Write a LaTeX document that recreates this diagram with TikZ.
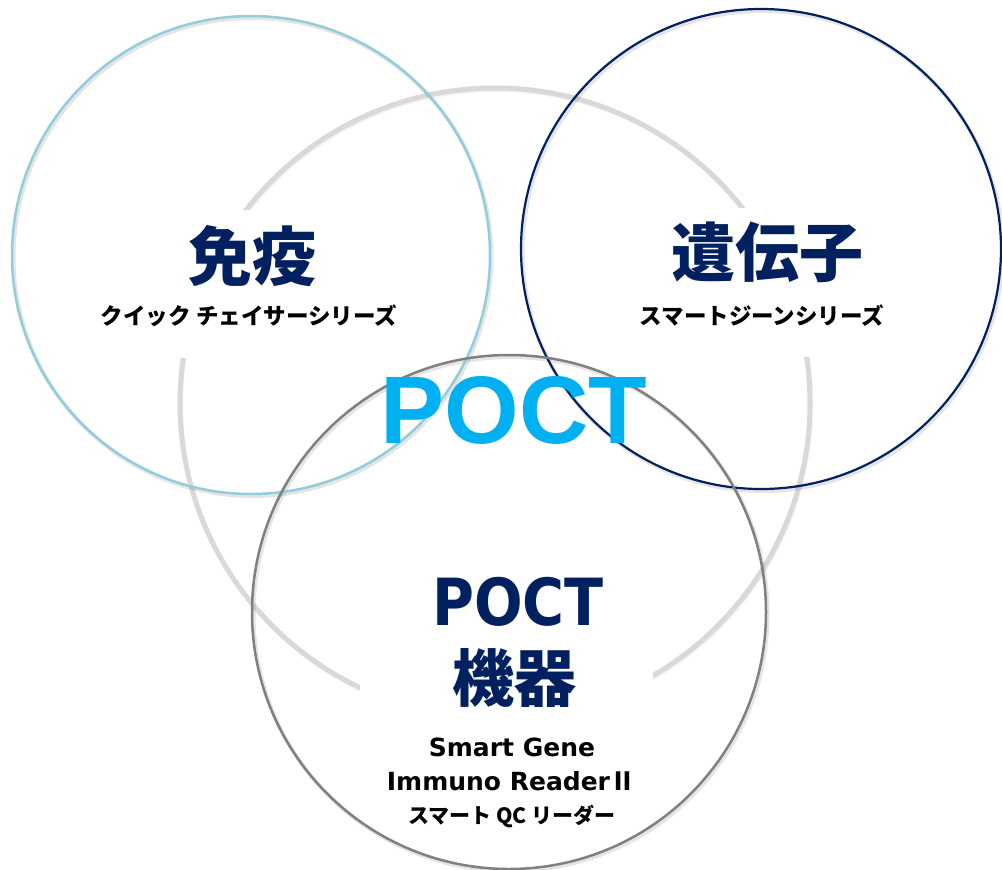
\documentclass[tikz,border=0pt]{standalone}
\usepackage{fontspec}
\usepackage{tikz}

\newfontfamily\jpfont{Noto Sans CJK JP}
\newfontfamily\latinfont{DejaVu Sans}
\newfontfamily\narrowfont{DejaVu Sans}[FakeStretch=0.88]
\newfontfamily\arialfont{Liberation Sans}

\definecolor{ringgray}{HTML}{D9D9D9}
\definecolor{aqualine}{HTML}{92CDDC}
\definecolor{navyline}{HTML}{002060}
\definecolor{midgray}{HTML}{808080}
\definecolor{poctblue}{HTML}{00B0F0}

\tikzset{
  ringshadow/.style={draw=black, opacity=0.10, line width=4pt},
  titletext/.style={inner sep=0pt, text=navyline, font=\jpfont\bfseries\fontsize{64}{70}\selectfont},
  subtext/.style={inner sep=0pt, text=black, font=\jpfont\bfseries\fontsize{22.5}{26}\selectfont},
  eqtext/.style={inner sep=0pt, anchor=base, text=black, font=\latinfont\bfseries\fontsize{25}{28}\selectfont}
}

\begin{document}
\begin{tikzpicture}[x=1pt, y=-1pt]
    % Canvas
    \fill[white] (0,0) rectangle (1002,870);
    \useasboundingbox (0,0) rectangle (1002,870);

    % Big background ring
    \draw[ringshadow, opacity=0.05] (496,405) circle [radius=315pt];
    \draw[ringgray, line width=5pt] (495,403) circle [radius=315pt];

    % White boxes behind the labels
    \fill[white] (100,210) rectangle (400,358);
    \fill[white] (630,208) rectangle (890,357);
    \fill[white] (360,560) rectangle (653,870);

    % Shadows of the three circles
    \draw[ringshadow] (252.5,257) circle [radius=239pt];
    \draw[ringshadow] (762.5,251) circle [radius=240pt];
    \draw[ringshadow] (510.5,614) circle [radius=257pt];

    % Immunity circle
    \draw[aqualine, line width=2.5pt] (251,255) circle [radius=239pt];
    % Gene circle
    \draw[navyline, line width=2.2pt] (761,249) circle [radius=240pt];
    % Device circle
    \draw[midgray, line width=2.5pt] (509,612) circle [radius=257pt];

    % Labels
    \node[titletext] (immuno) at (252,256) {免疫};
    \node[subtext] (quick) at (249,316) {クイック チェイサーシリーズ};

    \node[titletext] (gene) at (767,252) {遺伝子};
    \node[subtext] (smartgene) at (762,316) {スマートジーンシリーズ};

    \node[inner sep=0pt, anchor=base, text=poctblue,
          font=\arialfont\bfseries\fontsize{96}{100}\selectfont] (poct) at (514,443) {POCT};

    \node[inner sep=0pt, anchor=base, text=navyline,
          font=\narrowfont\bfseries\fontsize{65}{70}\selectfont] (device) at (518,625) {POCT};
    \node[titletext, font=\jpfont\bfseries\fontsize{62}{68}\selectfont] (kiki) at (514,678) {機器};

    \node[eqtext] (sgene) at (512,756) {Smart Gene};
    \node[eqtext] (reader) at (511,790) {Immuno Reader{\jpfont\bfseries Ⅱ}};
    \node[subtext, font=\jpfont\bfseries\fontsize{21}{24}\selectfont] (qc) at (512,816) {スマート QC リーダー};

\end{tikzpicture}
\end{document}
